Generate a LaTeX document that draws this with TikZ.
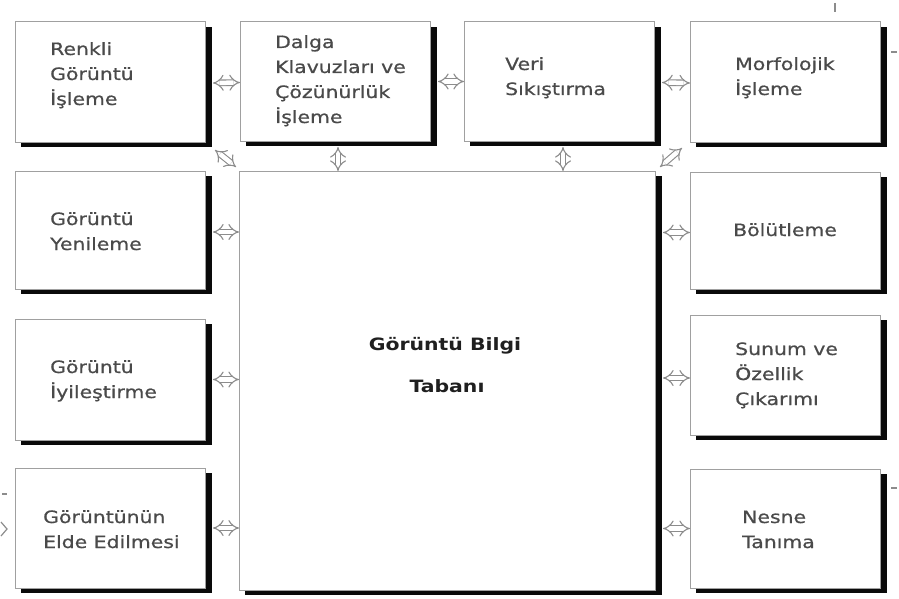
\documentclass[tikz,border=0pt]{standalone}
\usepackage{fontspec}
\setmainfont{DejaVu Sans}[FakeStretch=1.2]
\newfontfamily\boxfont{DejaVu Sans}[FakeStretch=1.2,FakeBold=0.7]
\usetikzlibrary{arrows.meta}
\definecolor{txtc}{HTML}{4A4A4A}
\definecolor{bordc}{HTML}{A0A0A0}
\definecolor{arrc}{HTML}{8C8C8C}
\definecolor{shadc}{HTML}{0A0A0A}
\newcommand\mybox[5]{%
  \fill[shadc] (#2+6,#3+5) rectangle (#4+7,#5+5);
  \pgfmathsetmacro\bw{#4-#2}\pgfmathsetmacro\bh{#5-#3}%
  \node[boxst, minimum width=\bw pt, minimum height=\bh pt] (#1) at ({(#2+#4)/2},{(#3+#5)/2}) {};
}
\newcommand\btext[4]{%
  \foreach \t [count=\i] in {#4}
    \node[txtst] (#1-\i) at (#2,{#3+25*(\i-1)}) {\t};
}
\begin{document}
\begin{tikzpicture}[x=1pt,y=-1pt,
  boxst/.style={draw=bordc, line width=1pt, fill=white, inner sep=0pt, outer sep=0pt},
  txtst/.style={anchor=base west, inner sep=0pt, text=txtc, font=\boxfont\fontsize{17}{25}\selectfont},
  dbl/.style={draw=arrc, double=white, double distance=4.5pt, line width=1.1pt, {Implies}-{Implies}},
  stray/.style={draw=arrc, line width=1.2pt}
]
\useasboundingbox (0,0) rectangle (899,599);
\fill[white] (0,0) rectangle (899,599);

% boxes
\mybox{b1}{15}{22}{205}{142}
\mybox{b2}{240}{22}{430}{141}
\mybox{b3}{464}{22}{654}{141}
\mybox{b4}{690}{22}{880}{142}
\mybox{l1}{15}{171}{205}{289}
\mybox{l2}{15}{319}{205}{440}
\mybox{l3}{15}{468}{205}{588}
\mybox{r1}{690}{172}{880}{289}
\mybox{r2}{690}{315}{880}{435}
\mybox{r3}{690}{469}{880}{588}
\mybox{C}{239}{171}{655}{590}

% texts
\btext{t1}{50}{55}{Renkli,Görüntü,İşleme}
\btext{t2}{275}{48}{Dalga,Klavuzları ve,Çözünürlük,İşleme}
\btext{t3}{505}{70}{Veri,Sıkıştırma}
\btext{t4}{735}{70}{Morfolojik,İşleme}
\btext{t5}{50}{225}{Görüntü,Yenileme}
\btext{t6}{50}{373}{Görüntü,İyileştirme}
\btext{t7}{43}{523}{Görüntünün,Elde Edilmesi}
\btext{t8}{733}{236}{Bölütleme}
\btext{t9}{735}{355}{Sunum ve,Özellik,Çıkarımı}
\btext{t10}{742}{523}{Nesne,Tanıma}
\node[anchor=base, inner sep=0pt, text=black!88, font=\bfseries\fontsize{17}{20}\selectfont] (ct1) at (445,350) {Görüntü Bilgi};
\node[anchor=base, inner sep=0pt, text=black!88, font=\bfseries\fontsize{17}{20}\selectfont] (ct2) at (447,392) {Tabanı};

% horizontal connectors
\draw[dbl] ([xshift=8pt,yshift=-1pt]b1.east) -- ([yshift=-1pt]b2.west);
\draw[dbl] ([xshift=8pt]b2.east) -- (b3.west);
\draw[dbl] ([xshift=8pt,yshift=-1pt]b3.east) -- ([yshift=-1pt]b4.west);
\draw[dbl] ([xshift=8pt,yshift=-2pt]l1.east) -- ([yshift=-2pt]C.west |- l1.east);
\draw[dbl] ([xshift=8pt]l2.east) -- (C.west |- l2.east);
\draw[dbl] ([xshift=8pt]l3.east) -- (C.west |- l3.east);
\draw[dbl] ([xshift=8pt,yshift=-2pt]C.east |- r1.west) -- ([yshift=-2pt]r1.west);
\draw[dbl] ([xshift=8pt,yshift=-3pt]C.east |- r2.west) -- ([yshift=-3pt]r2.west);
\draw[dbl] ([xshift=8pt]C.east |- r3.west) -- (r3.west);
% vertical connectors
\draw[dbl] ([xshift=3pt,yshift=-6pt]b2.south) -- ([xshift=3pt]b2.south |- C.north);
\draw[dbl] ([xshift=4pt,yshift=-6pt]b3.south) -- ([xshift=4pt]b3.south |- C.north);
% diagonal connectors
\draw[dbl] ([xshift=10pt,yshift=-8pt]b1.south east) -- ([xshift=-3pt,yshift=4pt]C.north west);
\draw[dbl] ([xshift=5pt,yshift=4pt]C.north east) -- ([xshift=-8pt,yshift=-6pt]b4.south west);

% fragments at the edges
\draw[stray] (835,3) -- (835,12);
\draw[stray] (891,52) -- (897,52);
\draw[stray] (2,494) -- (7,494);
\draw[stray] (1,522) -- (7,529) -- (1,536);
\draw[stray] (891,488) -- (897,488);
\end{tikzpicture}
\end{document}
